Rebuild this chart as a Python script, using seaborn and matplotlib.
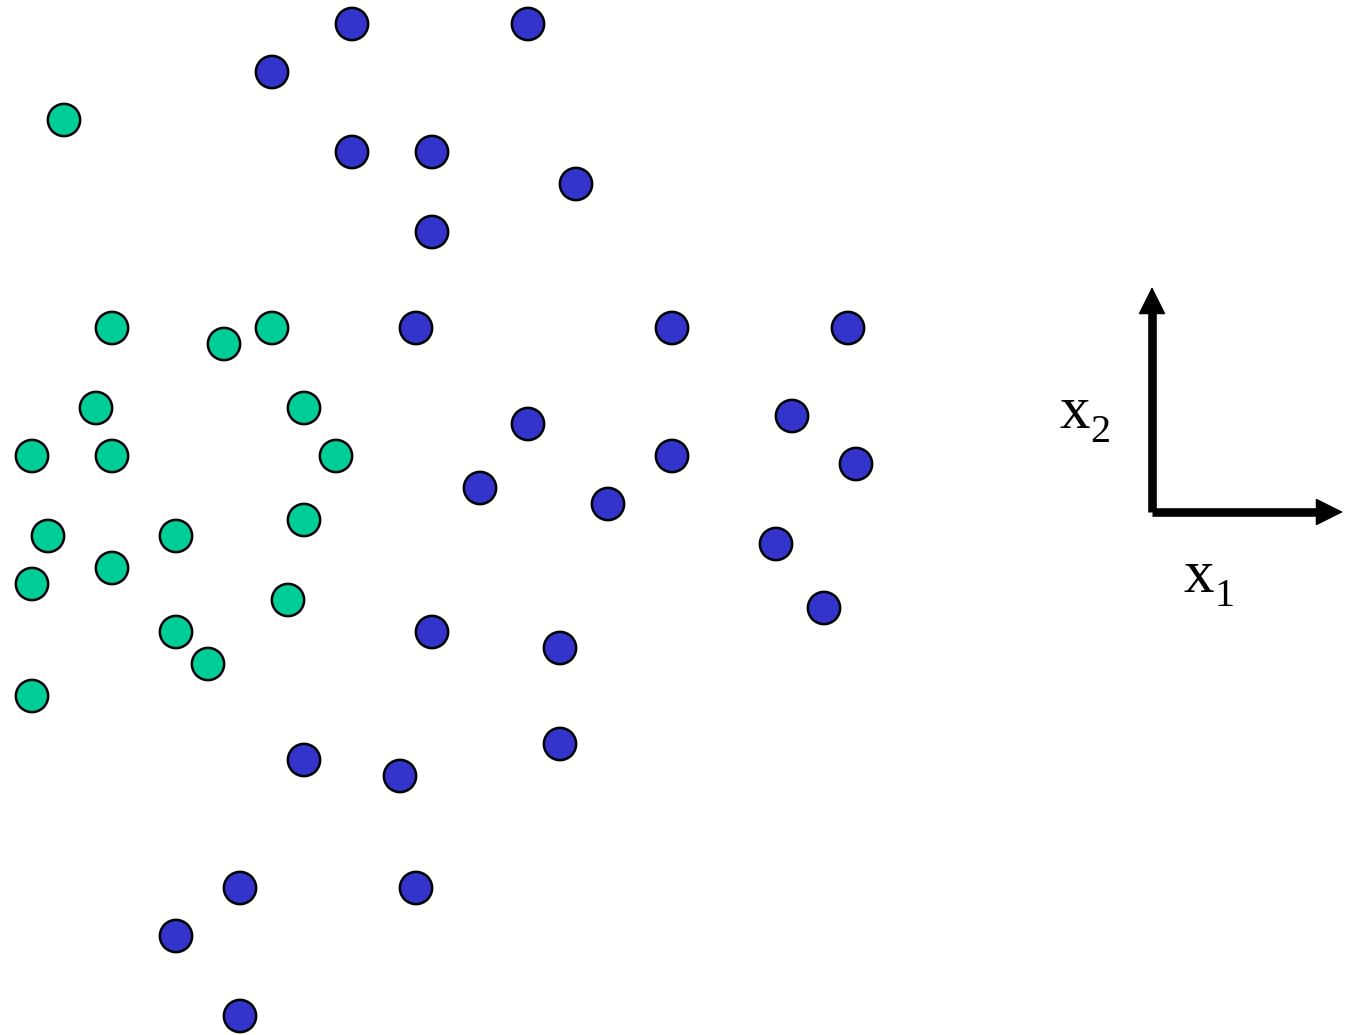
import matplotlib
matplotlib.use("Agg")
import matplotlib.pyplot as plt
import pandas as pd
import seaborn as sns

# Class A (blue) sample positions, in canvas units (x right, y down)
blue_x = [352, 528, 272, 352, 432, 576, 432, 416, 672, 848, 792, 528, 672, 856,
          480, 608, 776, 824, 432, 560, 560, 304, 400, 240, 416, 176, 240]
blue_y = [24, 24, 72, 152, 152, 184, 232, 328, 328, 328, 416, 424, 456, 464,
          488, 504, 544, 608, 632, 648, 744, 760, 776, 888, 888, 936, 1016]

# Class B (green) sample positions
green_x = [64, 112, 224, 272, 96, 304, 32, 112, 336, 48, 176, 304, 32, 112,
           288, 176, 208, 32]
green_y = [120, 328, 344, 328, 408, 408, 456, 456, 456, 536, 536, 520, 584, 568,
           600, 632, 664, 696]

classes = ["blue", "green"]
palette = {"blue": "#3333CC", "green": "#00CC99"}

df = pd.DataFrame({
    "x1": blue_x + green_x,
    "x2": blue_y + green_y,
    "cls": [classes[0]] * len(blue_x) + [classes[1]] * len(green_x),
})

sns.set_style("white")
fig = plt.figure(figsize=(13.46, 10.35), dpi=100)
ax = fig.add_axes([0, 0, 1, 1])

sns.scatterplot(data=df, x="x1", y="x2", hue="cls", palette=palette,
                s=540, edgecolor="black", linewidth=1.8, legend=False,
                ax=ax, zorder=3)

ax.set_xlim(0, 1346)
ax.set_ylim(1035, 0)
ax.axis("off")

# Coordinate axes glyph: thick shafts plus solid triangular heads
ox, oy = 1152, 512
ax.plot([ox, ox], [oy, 310], color="black", lw=6.2, solid_capstyle="butt")
ax.plot([ox, 1322], [oy, oy], color="black", lw=6.2, solid_capstyle="butt")
head_kw = dict(arrowstyle="-|>,head_length=1.0,head_width=0.5",
               color="black", lw=1, mutation_scale=18,
               shrinkA=0, shrinkB=0)
ax.annotate("", xy=(ox, 287), xytext=(ox, 316), arrowprops=head_kw)
ax.annotate("", xy=(1343, oy), xytext=(1314, oy), arrowprops=head_kw)

serif = "Liberation Serif"
txt = dict(family=serif, color="black", ha="left", va="baseline")
ax.text(1059, 428, "x", fontsize=44, **txt)
ax.text(1090, 442, "2", fontsize=29, **txt)
ax.text(1184, 592, "x", fontsize=44, **txt)
ax.text(1215, 606, "1", fontsize=29, **txt)

fig.savefig("out.png", dpi=100, facecolor="white")
